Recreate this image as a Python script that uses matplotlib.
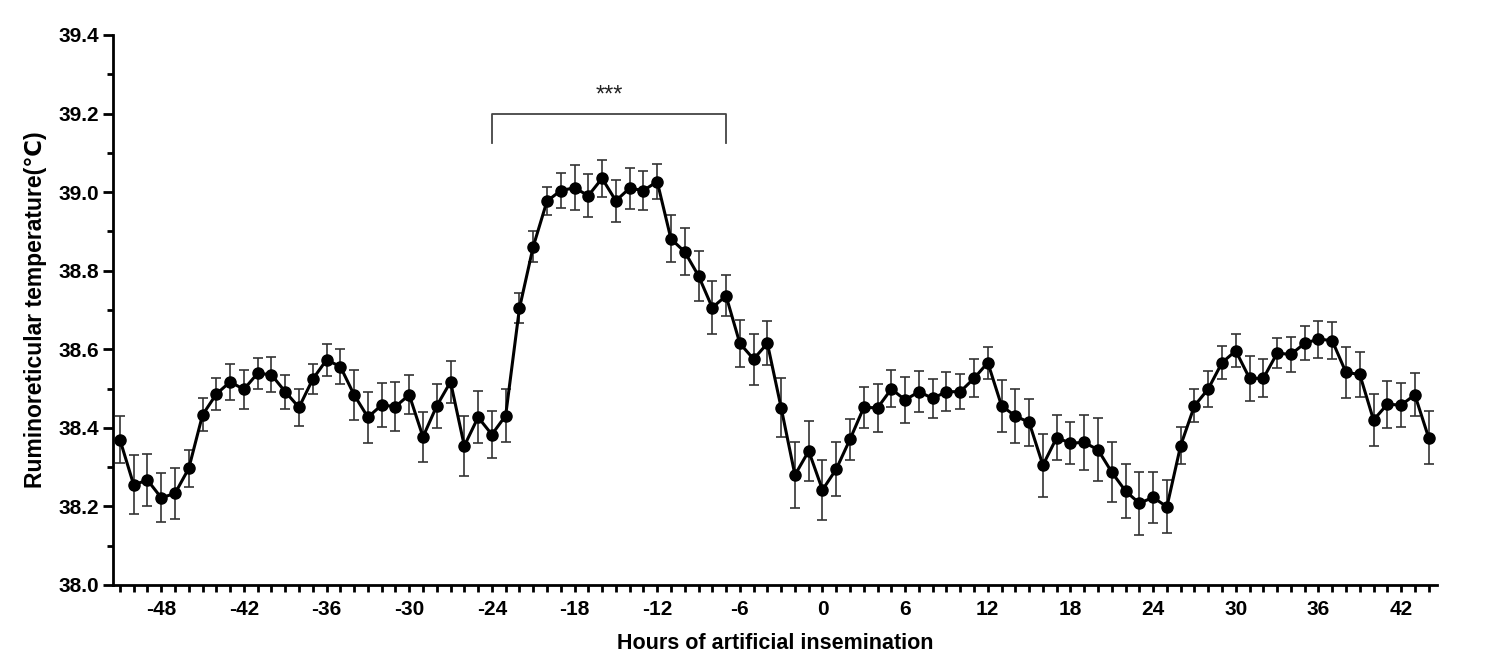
import matplotlib
matplotlib.use("Agg")
import matplotlib.pyplot as plt
from matplotlib.ticker import MultipleLocator

hours = list(range(-51, 45))
temperature = [
    38.370, 38.255, 38.267, 38.222, 38.233, 38.297, 38.433, 38.486, 38.517, 38.498,
    38.539, 38.535, 38.492, 38.452, 38.524, 38.573, 38.556, 38.484, 38.427, 38.458,
    38.454, 38.484, 38.377, 38.456, 38.517, 38.354, 38.427, 38.383, 38.431, 38.704,
    38.861, 38.977, 39.004, 39.011, 38.991, 39.035, 38.978, 39.010, 39.004, 39.027,
    38.881, 38.848, 38.787, 38.706, 38.736, 38.615, 38.575, 38.615, 38.451, 38.280,
    38.341, 38.242, 38.295, 38.371, 38.452, 38.451, 38.499, 38.471, 38.492, 38.475,
    38.492, 38.492, 38.526, 38.566, 38.456, 38.430, 38.414, 38.305, 38.375, 38.361,
    38.363, 38.344, 38.287, 38.239, 38.208, 38.223, 38.199, 38.355, 38.456, 38.499,
    38.566, 38.596, 38.526, 38.526, 38.590, 38.587, 38.615, 38.626, 38.622, 38.541,
    38.536, 38.420, 38.460, 38.458, 38.484, 38.375,
]
sem = [
    0.060, 0.075, 0.066, 0.062, 0.065, 0.047, 0.042, 0.040, 0.045, 0.050,
    0.040, 0.045, 0.043, 0.047, 0.038, 0.040, 0.045, 0.063, 0.065, 0.055,
    0.063, 0.050, 0.064, 0.056, 0.053, 0.077, 0.066, 0.060, 0.067, 0.038,
    0.040, 0.036, 0.045, 0.057, 0.054, 0.047, 0.054, 0.052, 0.050, 0.045,
    0.060, 0.060, 0.064, 0.068, 0.052, 0.060, 0.065, 0.056, 0.075, 0.084,
    0.077, 0.077, 0.069, 0.052, 0.052, 0.061, 0.047, 0.058, 0.052, 0.050,
    0.049, 0.045, 0.048, 0.041, 0.067, 0.068, 0.059, 0.080, 0.057, 0.053,
    0.070, 0.080, 0.076, 0.068, 0.080, 0.065, 0.067, 0.047, 0.042, 0.045,
    0.042, 0.042, 0.058, 0.048, 0.038, 0.045, 0.043, 0.047, 0.047, 0.064,
    0.057, 0.066, 0.060, 0.055, 0.055, 0.067,
]
xtick_labels = [-48, -42, -36, -30, -24, -18, -12, -6, 0, 6, 12, 18, 24, 30, 36, 42]
ytick_labels = [38.0, 38.2, 38.4, 38.6, 38.8, 39.0, 39.2, 39.4]
bracket_start, bracket_end = -24, -7
bracket_top, bracket_foot = 39.199, 39.125
sig_text = "***"

plt.rcParams['font.family'] = ['Liberation Sans', 'DejaVu Sans']

fig = plt.figure(figsize=(15.01, 6.69), dpi=100)
ax = fig.add_axes([0.0753, 0.1256, 0.882, 0.8221])

ax.errorbar(hours, temperature, yerr=sem, fmt='none', ecolor='#333333',
            elinewidth=1.2, capsize=3.8, capthick=1.2, zorder=2)
ax.plot(hours, temperature, color='black', lw=2.2, marker='o', markersize=8,
        markerfacecolor='black', markeredgecolor='black', zorder=3)

# significance bracket
ax.plot([bracket_start, bracket_start, bracket_end, bracket_end],
        [bracket_foot, bracket_top, bracket_top, bracket_foot],
        color='#444444', lw=1.3, zorder=2)
ax.text((bracket_start + bracket_end) / 2, bracket_top + 0.02, sig_text,
        ha='center', va='bottom', fontsize=17, color='#222222')

ax.set_xlim(-51.5, 44.6)
ax.set_ylim(38.0, 39.4)
ax.set_xticks(xtick_labels)
ax.set_xticklabels([str(v) for v in xtick_labels])
ax.xaxis.set_minor_locator(MultipleLocator(1))
ax.set_yticks(ytick_labels)
ax.set_yticklabels([f"{v:.1f}" for v in ytick_labels])
ax.yaxis.set_minor_locator(MultipleLocator(0.1))

for s in ['top', 'right']:
    ax.spines[s].set_visible(False)
for s in ['left', 'bottom']:
    ax.spines[s].set_linewidth(2.0)
    ax.spines[s].set_color('black')

ax.tick_params(axis='x', which='both', direction='out', length=5, width=2.0, pad=6,
               labelsize=15)
ax.tick_params(axis='y', which='major', direction='out', length=7, width=2.0, pad=3,
               labelsize=15)
ax.tick_params(axis='y', which='minor', direction='out', length=4.5, width=2.0)
for lab in ax.get_xticklabels() + ax.get_yticklabels():
    lab.set_fontweight('bold')

ax.set_xlabel("Hours of artificial insemination", fontsize=15.5, fontweight='bold',
              labelpad=10)
ax.set_ylabel("Ruminoreticular temperature(℃)", fontsize=16.5, fontweight='bold',
              labelpad=8)

fig.savefig("out.png", dpi=100)
